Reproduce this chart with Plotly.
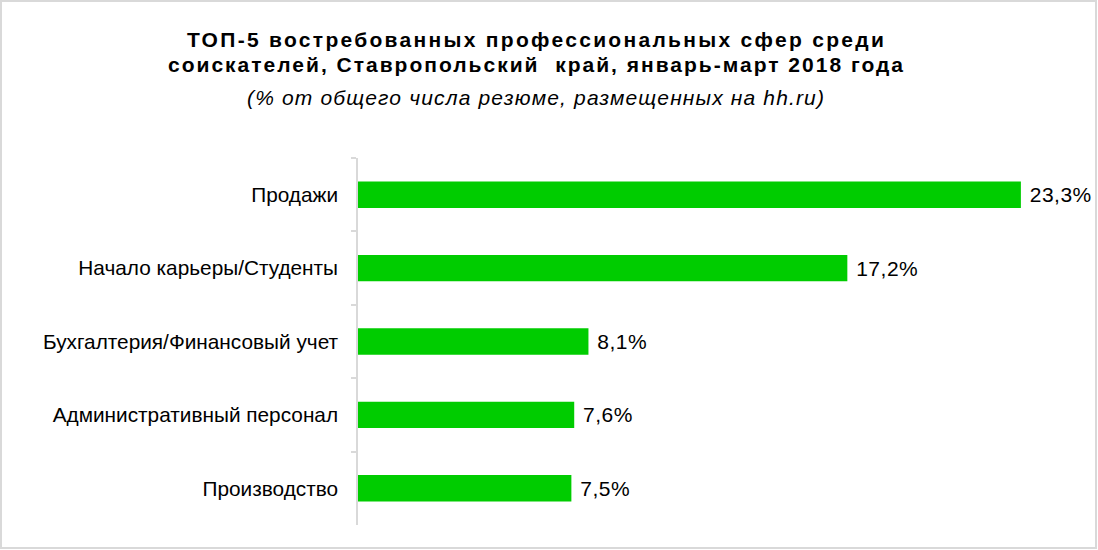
import plotly.graph_objects as go

categories = ["Продажи", "Начало карьеры/Студенты", "Бухгалтерия/Финансовый учет",
              "Административный персонал", "Производство"]
values = [23.3, 17.2, 8.1, 7.6, 7.5]
value_labels = ["23,3%", "17,2%", "8,1%", "7,6%", "7,5%"]

title_line1 = "ТОП-5 востребованных профессиональных сфер среди"
title_line2 = "соискателей, Ставропольский\u00a0 край, январь-март 2018 года"
subtitle = "(% от общего числа резюме, размещенных на hh.ru)"

W, H = 1098, 550
L, R, T, B = 358, 29, 158, 25
pw, ph = W - L - R, H - T - B

fig = go.Figure(go.Bar(
    x=values, y=categories, orientation="h",
    marker=dict(color="#00CC00", line=dict(width=0)),
    width=0.36,
    text=value_labels,
    texttemplate='\u00a0<span style="letter-spacing:0.5px">%{text}</span>',
    textposition="outside", cliponaxis=False,
    textfont=dict(family="Liberation Sans, Arial, sans-serif", size=21, color="#000000"),
))

fig.update_layout(
    width=W, height=H,
    margin=dict(l=L, r=R, t=T, b=B),
    paper_bgcolor="white", plot_bgcolor="white",
    showlegend=False,
    font=dict(family="Liberation Sans, Arial, sans-serif", color="#000000"),
    xaxis=dict(range=[0, pw / 28.45], visible=False, fixedrange=True),
    yaxis=dict(
        autorange="reversed", tickson="boundaries", ticks="outside", ticklen=5,
        tickcolor="#D9D9D9", tickwidth=1.5, showline=True, linecolor="#D9D9D9",
        linewidth=1.5, showgrid=False, ticklabelstandoff=14,
        tickfont=dict(size=20.8, color="#000000"),
    ),
)

def px_to_paper_x(px):
    return (px - L) / pw

def px_to_paper_y(py):
    return (H - B - py) / ph

anns = [
    (title_line1, 40, 21, '<b><span style="letter-spacing:2.3px">%s</span></b>'),
    (title_line2, 64, 21, '<b><span style="letter-spacing:2.0px">%s</span></b>'),
    (subtitle, 97, 21, '<i><span style="letter-spacing:1.15px">%s</span></i>'),
]
for txt, yc, size, fmt in anns:
    fig.add_annotation(text=fmt % txt, x=px_to_paper_x(536), y=px_to_paper_y(yc),
                       xref="paper", yref="paper", xanchor="center", yanchor="middle",
                       showarrow=False, font=dict(size=size, color="#000000"))

fig.add_shape(type="rect", xref="paper", yref="paper",
              x0=px_to_paper_x(1), x1=px_to_paper_x(W - 2),
              y0=px_to_paper_y(H - 2), y1=px_to_paper_y(1),
              line=dict(color="#D9D9D9", width=2), fillcolor="rgba(0,0,0,0)", layer="below")

fig.write_html("out.html")
